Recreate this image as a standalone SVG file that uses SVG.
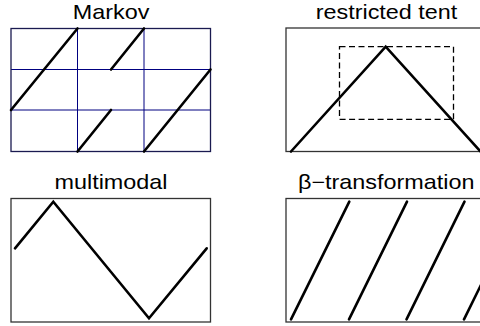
<svg xmlns="http://www.w3.org/2000/svg" width="480" height="326" viewBox="0 0 480 326">
<style>
text{font-family:"Liberation Sans",Arial,sans-serif;font-size:20px;fill:#000;text-anchor:middle}
.box{fill:none;stroke:#333;stroke-width:1.3}
.mbox{fill:none;stroke:#1a1a50;stroke-width:1.3}
.grid{stroke:#000080;stroke-width:1}
.curve{fill:none;stroke:#000;stroke-width:2.6;stroke-linecap:round;stroke-linejoin:miter}
.dash{fill:none;stroke:#000;stroke-width:1.3;stroke-dasharray:6,3.5}
</style>
<rect width="480" height="326" fill="#fff"/>
<g id="markov">
<text transform="translate(111,18.5) scale(1.17,1)">Markov</text>
<line class="grid" x1="77.5" y1="28.5" x2="77.5" y2="151.5"/>
<line class="grid" x1="144" y1="28.5" x2="144" y2="151.5"/>
<line class="grid" x1="11" y1="69.5" x2="210.5" y2="69.5"/>
<line class="grid" x1="11" y1="110" x2="210.5" y2="110"/>
<rect class="mbox" x="11" y="28.5" width="199.5" height="123"/>
<line class="curve" x1="11" y1="110" x2="77.5" y2="28.5"/>
<line class="curve" x1="111" y1="69.5" x2="144" y2="28.5"/>
<line class="curve" x1="77.5" y1="151.5" x2="111" y2="110"/>
<line class="curve" x1="144" y1="151.5" x2="210.5" y2="69.5"/>
</g>
<g id="tent">
<text transform="translate(386.5,18.5) scale(1.17,1)">restricted tent</text>
<rect class="box" x="286" y="28" width="200" height="123.5"/>
<rect class="dash" x="339.5" y="46.7" width="114" height="72.6"/>
<polyline class="curve" points="291,151.5 385.7,46.7 480.4,151.5"/>
</g>
<g id="multimodal">
<text transform="translate(111,188.5) scale(1.17,1)">multimodal</text>
<rect class="box" x="11" y="198.5" width="199.5" height="123.5"/>
<polyline class="curve" points="15,248.3 53.3,201.7 149,318.3 206.7,248.3"/>
</g>
<g id="beta">
<text transform="translate(386.2,188.5) scale(1.17,1)">β−transformation</text>
<rect class="box" x="286" y="198.5" width="200" height="123.5"/>
<line class="curve" x1="291" y1="319.3" x2="349.3" y2="201.7"/>
<line class="curve" x1="349" y1="319.3" x2="407" y2="201.7"/>
<line class="curve" x1="406.5" y1="319.3" x2="464.5" y2="201.7"/>
<line class="curve" x1="464" y1="319.3" x2="522" y2="201.7"/>
</g>
</svg>
